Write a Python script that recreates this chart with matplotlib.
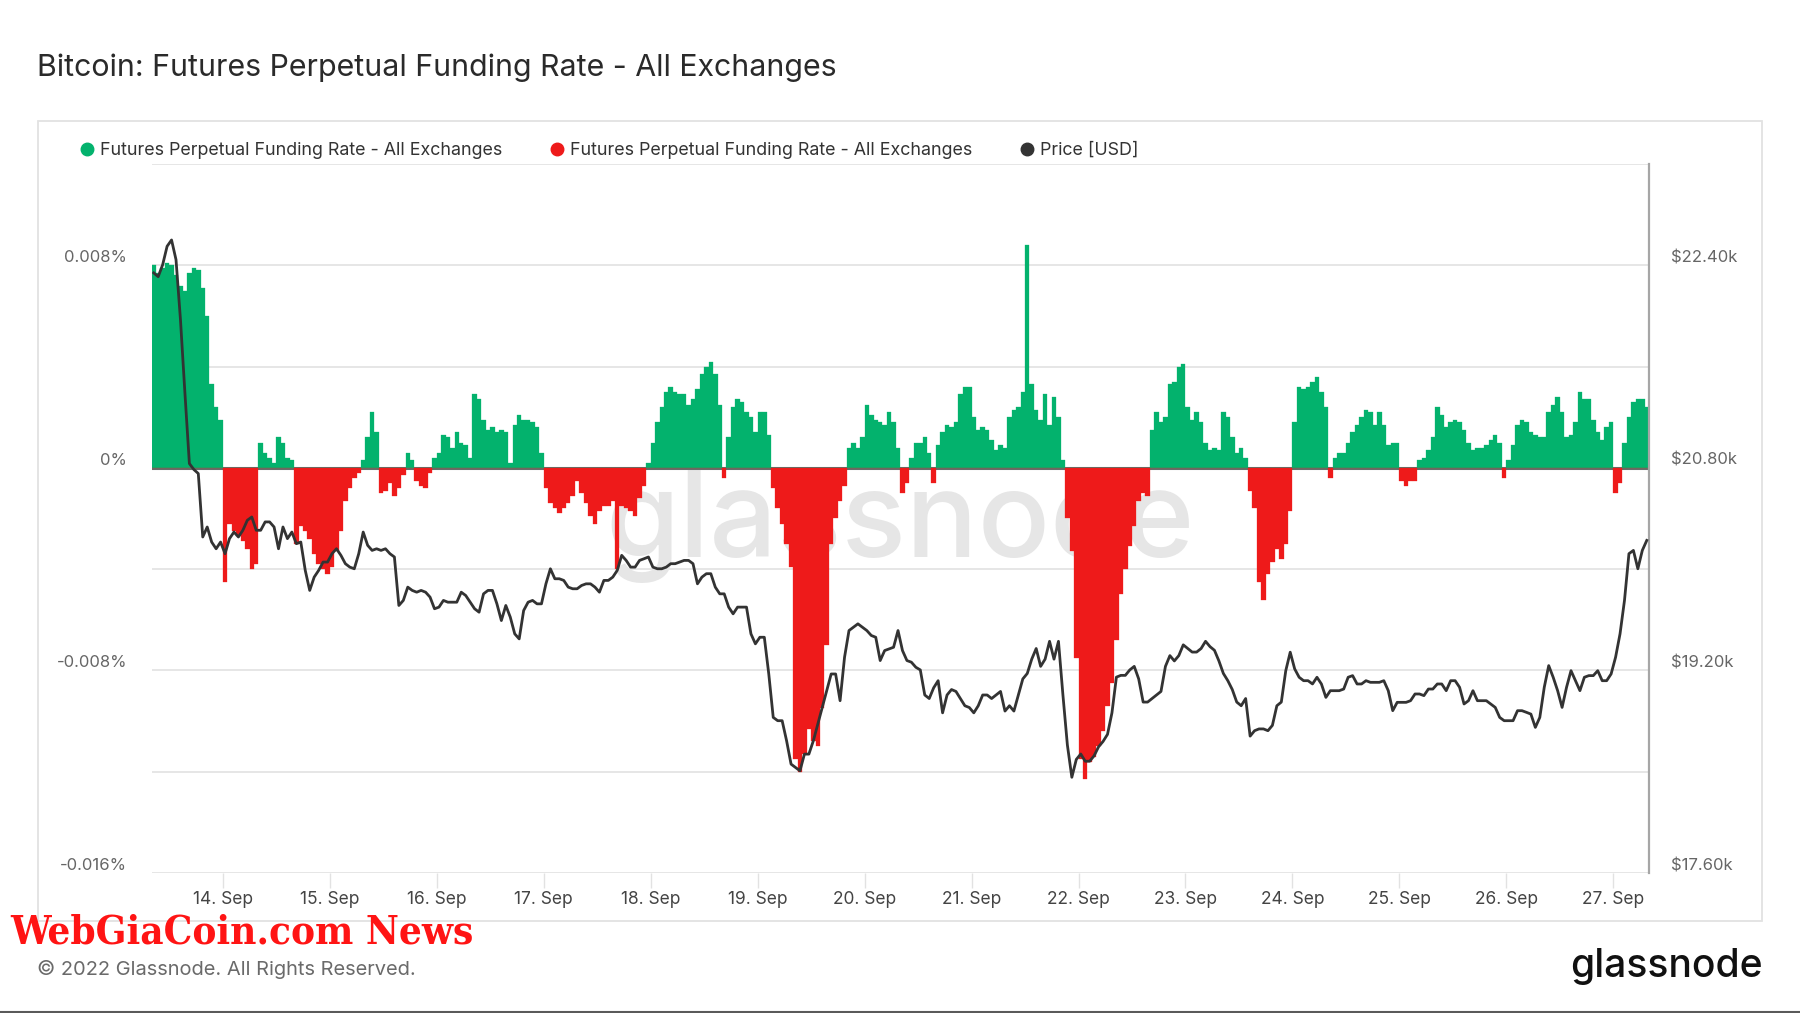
import numpy as np
import pandas as pd
import matplotlib
matplotlib.use("Agg")
import matplotlib.pyplot as plt
import matplotlib.dates as mdates
from matplotlib.patches import Rectangle
from matplotlib.lines import Line2D

# ---------------- data (hourly) ----------------
start_time = "2022-09-13 08:30"
bucket = "h"

funding_rate_pct = [
    0.0080, 0.0077, 0.0079, 0.0081, 0.0080, 0.0076, 0.0072, 0.0070, 0.0077, 0.0079, 0.0078, 0.0071, 0.0060, 0.0033, 0.0024, 0.0019,
    -0.0045, -0.0022, -0.0025, -0.0027, -0.0029, -0.0032, -0.0040, -0.0038, 0.0010, 0.0006, 0.0004, 0.0002, 0.0012, 0.0010, 0.0004, 0.0003,
    -0.0030, -0.0023, -0.0025, -0.0028, -0.0034, -0.0038, -0.0040, -0.0042, -0.0039, -0.0033, -0.0025, -0.0013, -0.0008, -0.0004, -0.0002, 0.0003,
    0.0012, 0.0022, 0.0014, -0.0010, -0.0009, -0.0006, -0.0011, -0.0008, -0.0003, 0.0006, 0.0003, -0.0005, -0.0007, -0.0008, -0.0002, 0.0004,
    0.0006, 0.0013, 0.0012, 0.0008, 0.0014, 0.0010, 0.0009, 0.0004, 0.0029, 0.0027, 0.0019, 0.0015, 0.0016, 0.0014, 0.0015, 0.0014,
    0.0002, 0.0017, 0.0021, 0.0019, 0.0019, 0.0018, 0.0016, 0.0006, -0.0008, -0.0014, -0.0016, -0.0018, -0.0016, -0.0014, -0.0011, -0.0005,
    -0.0010, -0.0014, -0.0019, -0.0022, -0.0017, -0.0015, -0.0015, -0.0013, -0.0040, -0.0015, -0.0016, -0.0017, -0.0019, -0.0012, -0.0007, 0.0002,
    0.0010, 0.0018, 0.0024, 0.0030, 0.0032, 0.0030, 0.0029, 0.0029, 0.0025, 0.0027, 0.0031, 0.0037, 0.0040, 0.0042, 0.0037, 0.0025,
    -0.0004, 0.0012, 0.0024, 0.0027, 0.0026, 0.0022, 0.0020, 0.0014, 0.0022, 0.0022, 0.0013, -0.0008, -0.0016, -0.0022, -0.0030, -0.0039,
    -0.0115, -0.0120, -0.0113, -0.0103, -0.0108, -0.0110, -0.0095, -0.0070, -0.0030, -0.0020, -0.0013, -0.0007, 0.0008, 0.0010, 0.0008, 0.0012,
    0.0025, 0.0021, 0.0019, 0.0018, 0.0017, 0.0022, 0.0018, 0.0008, -0.0010, -0.0006, 0.0004, 0.0010, 0.0010, 0.0012, 0.0006, -0.0006,
    0.0009, 0.0014, 0.0017, 0.0016, 0.0018, 0.0029, 0.0032, 0.0032, 0.0020, 0.0015, 0.0016, 0.0015, 0.0011, 0.0007, 0.0009, 0.0008,
    0.0020, 0.0023, 0.0024, 0.0030, 0.0088, 0.0033, 0.0023, 0.0019, 0.0029, 0.0017, 0.0028, 0.0020, 0.0003, -0.0020, -0.0033, -0.0075,
    -0.0115, -0.0123, -0.0116, -0.0114, -0.0110, -0.0104, -0.0094, -0.0085, -0.0068, -0.0050, -0.0040, -0.0031, -0.0023, -0.0013, -0.0010, -0.0011,
    0.0015, 0.0022, 0.0018, 0.0020, 0.0033, 0.0034, 0.0040, 0.0041, 0.0024, 0.0019, 0.0022, 0.0018, 0.0010, 0.0007, 0.0008, 0.0007,
    0.0022, 0.0020, 0.0012, 0.0006, 0.0008, 0.0004, -0.0009, -0.0016, -0.0045, -0.0052, -0.0042, -0.0037, -0.0032, -0.0036, -0.0030, -0.0017,
    0.0018, 0.0032, 0.0031, 0.0032, 0.0034, 0.0036, 0.0030, 0.0024, -0.0004, 0.0004, 0.0006, 0.0006, 0.0010, 0.0014, 0.0017, 0.0020,
    0.0023, 0.0022, 0.0017, 0.0022, 0.0017, 0.0009, 0.0010, 0.0010, -0.0005, -0.0007, -0.0005, -0.0005, 0.0003, 0.0004, 0.0007, 0.0012,
    0.0024, 0.0021, 0.0016, 0.0018, 0.0019, 0.0018, 0.0015, 0.0010, 0.0007, 0.0008, 0.0008, 0.0009, 0.0011, 0.0013, 0.0010, -0.0004,
    0.0003, 0.0009, 0.0017, 0.0019, 0.0018, 0.0014, 0.0013, 0.0012, 0.0012, 0.0022, 0.0025, 0.0028, 0.0022, 0.0012, 0.0013, 0.0018,
    0.0030, 0.0027, 0.0027, 0.0019, 0.0014, 0.0011, 0.0016, 0.0018, -0.0010, -0.0006, 0.0010, 0.0020, 0.0026, 0.0027, 0.0027, 0.0024,
]

price_usd = [
    22340, 22310, 22404, 22550, 22600, 22444, 21970, 21390, 20834, 20787, 20755, 20254, 20333, 20214, 20161, 20214,
    20122, 20241, 20293, 20254, 20307, 20386, 20412, 20307, 20307, 20373, 20373, 20333, 20161, 20333, 20241, 20293,
    20201, 20214, 19990, 19832, 19937, 19990, 20056, 20056, 20122, 20161, 20109, 20043, 20016, 20003, 20122, 20293,
    20188, 20148, 20161, 20148, 20161, 20122, 20096, 19713, 19753, 19858, 19832, 19818, 19832, 19818, 19779, 19687,
    19700, 19753, 19739, 19739, 19739, 19818, 19792, 19739, 19687, 19660, 19805, 19832, 19832, 19726, 19594, 19713,
    19621, 19489, 19449, 19673, 19739, 19753, 19726, 19726, 19884, 20003, 19924, 19924, 19911, 19858, 19845, 19845,
    19871, 19884, 19884, 19858, 19818, 19911, 19911, 19937, 19990, 20109, 20069, 20016, 20016, 20069, 20082, 20096,
    20016, 20003, 20003, 20016, 20043, 20043, 20056, 20069, 20069, 20043, 19884, 19937, 19964, 19964, 19858, 19805,
    19805, 19700, 19647, 19700, 19700, 19700, 19489, 19410, 19462, 19462, 19172, 18829, 18803, 18803, 18644, 18460,
    18433, 18407, 18539, 18539, 18644, 18776, 18908, 19040, 19172, 19172, 18961, 19304, 19515, 19541, 19568, 19541,
    19515, 19476, 19462, 19278, 19357, 19370, 19383, 19515, 19357, 19278, 19265, 19225, 19204, 19006, 18978, 19063,
    19119, 18865, 19006, 19049, 19034, 18978, 18921, 18907, 18865, 18921, 19006, 19006, 18978, 19006, 19034, 18879,
    18921, 18879, 19006, 19133, 19176, 19289, 19373, 19232, 19289, 19430, 19289, 19430, 19006, 18611, 18356, 18497,
    18540, 18483, 18483, 18526, 18597, 18639, 18695, 18865, 19147, 19161, 19161, 19204, 19232, 19133, 18950, 18950,
    18978, 19006, 19034, 19232, 19317, 19275, 19317, 19402, 19373, 19345, 19345, 19373, 19430, 19388, 19359, 19275,
    19176, 19119, 19049, 18950, 18921, 18978, 18681, 18724, 18738, 18738, 18724, 18766, 18921, 18950, 19198, 19344,
    19212, 19146, 19119, 19119, 19093, 19146, 19093, 18987, 19040, 19040, 19040, 19053, 19146, 19159, 19093, 19093,
    19119, 19106, 19106, 19106, 19119, 19040, 18882, 18948, 18948, 18948, 18961, 19014, 19014, 19001, 19053, 19053,
    19093, 19093, 19040, 19119, 19119, 19067, 18935, 18961, 19040, 18961, 18961, 18961, 18935, 18908, 18829, 18803,
    18803, 18803, 18882, 18882, 18869, 18855, 18750, 18829, 19067, 19238, 19146, 19040, 18908, 19067, 19198, 19119,
    19040, 19146, 19159, 19159, 19198, 19119, 19119, 19172, 19304, 19489, 19753, 20122, 20148, 20003, 20148, 20227,
]

left_ticks = [-0.016, -0.008, 0.0, 0.008]
left_tick_labels = ["-0.016%", "-0.008%", "0%", "0.008%"]
right_ticks = [17600, 19200, 20800, 22400]
right_tick_labels = ["$17.60k", "$19.20k", "$20.80k", "$22.40k"]
legend_labels = ["Futures Perpetual Funding Rate - All Exchanges",
                 "Futures Perpetual Funding Rate - All Exchanges",
                 "Price [USD]"]

# ---------------- styling ----------------
W, H = 1800, 1013
GREEN = "#03B26D"
RED = "#EE1A1A"
LINE = "#333333"
FONT = ["Inter", "DejaVu Sans"]
plt.rcParams["font.family"] = FONT

def fx(x):
    return x / W

def fy(y):
    return 1 - y / H

fig = plt.figure(figsize=(W / 100, H / 100), dpi=100)
fig.patch.set_facecolor("white")

# outer panel frame
fig.patches.append(Rectangle((fx(38), fy(921)), fx(1762) - fx(38), fy(121) - fy(921),
                             transform=fig.transFigure, fill=False,
                             ec="#e2e2e2", lw=1.3, zorder=0))

ax_l, ax_r, ax_t, ax_b = 151.5, 1649, 164, 873
ax = fig.add_axes([fx(ax_l), fy(ax_b), fx(ax_r) - fx(ax_l), fy(ax_t) - fy(ax_b)])
ax.patch.set_visible(False)

times = pd.date_range(start_time, periods=len(funding_rate_pct), freq=bucket)
fr = np.array(funding_rate_pct)
pos = np.where(fr >= 0, fr, 0)
neg = np.where(fr < 0, fr, 0)

ax.set_ylim(-0.016, 0.012)
ax.set_xlim(pd.Timestamp("2022-09-13 08:00"), pd.Timestamp("2022-09-27 08:00"))

for g in np.arange(-0.016, 0.0121, 0.004):
    ax.axhline(g, color="#e6e6e6", lw=1.4, zorder=1)
ax.axhline(0, color="#6a6a6a", lw=2.2, zorder=1.5)

# watermark
wm = ax.text(0.5, 0.5, "glassnode", transform=fig.transFigure, color="#e6e6e6",
             fontsize=90, fontweight="medium", ha="left", va="baseline", zorder=0.5,
             family=FONT)

w = 1 / 24
ax.bar(times, pos, width=w, color=GREEN, edgecolor=GREEN, lw=0.2, zorder=2)
ax.bar(times, neg, width=w, color=RED, edgecolor=RED, lw=0.2, zorder=2)

for s in ["top", "left", "bottom"]:
    ax.spines[s].set_visible(False)
ax.spines["right"].set_color("#a6a6a6")
ax.spines["right"].set_linewidth(1.6)

ax.set_yticks(left_ticks)
ax.set_yticklabels([])
ax.tick_params(axis="y", length=0)
for v, lab in zip(left_ticks, left_tick_labels):
    ax.annotate(lab, xy=(127, v), xycoords=("figure pixels", "data"),
                xytext=(0, 3), textcoords="offset pixels",
                ha="right", va="baseline", color="#666666", fontsize=12)

ax.xaxis.set_major_locator(mdates.DayLocator())
ax.xaxis.set_major_formatter(mdates.DateFormatter("%d. %b"))
ax.tick_params(axis="x", direction="out", length=10.8, width=1, color="#e2e2e2",
               labelcolor="#444444", labelsize=12.5, pad=2)

ax2 = ax.twinx()
ax2.patch.set_visible(False)
ax2.set_ylim(17600, 23200)
ax2.plot(times, price_usd, color=LINE, lw=2.0, zorder=5, solid_joinstyle="round")
for s in ["top", "left", "bottom", "right"]:
    ax2.spines[s].set_visible(False)
ax2.set_yticks(right_ticks)
ax2.set_yticklabels([])
ax2.tick_params(axis="y", length=0)
for v, lab in zip(right_ticks, right_tick_labels):
    ax2.annotate(lab, xy=(1671, v), xycoords=("figure pixels", "data"),
                 xytext=(0, 3), textcoords="offset pixels",
                 ha="left", va="baseline", color="#666666", fontsize=12)

# ---------------- texts ----------------
title = fig.text(fx(37), fy(76), "Bitcoin: Futures Perpetual Funding Rate - All Exchanges",
                 fontsize=22, color="#2a2a2a", ha="left", va="baseline")

leg_items = [(87, GREEN, 100), (557, RED, 570), (1027, "#333333", 1040)]
leg_texts = []
for (dx, col, tx), lab in zip(leg_items, legend_labels):
    fig.add_artist(Line2D([fx(dx)], [fy(149)], marker="o", markersize=9,
                          color=col, transform=fig.transFigure, lw=0))
    leg_texts.append(fig.text(fx(tx), fy(155), lab, fontsize=12.5, color="#333333",
                              ha="left", va="baseline"))

copy = fig.text(fx(37), fy(975), "\u00a9 2022 Glassnode. All Rights Reserved.",
                fontsize=13, color="#6a6a6a", ha="left", va="baseline")

logo = fig.text(fx(1570), fy(977), "glassnode", fontsize=28, fontweight="medium",
                color="#111111", ha="left", va="baseline")

news = fig.text(fx(10), fy(943), "WebGiaCoin.com News", fontsize=30,
                fontweight="bold", fontstretch="condensed", color="#FF1414",
                family=["DejaVu Serif", "Liberation Serif"], ha="left", va="baseline")

fig.add_artist(Line2D([0, 1], [fy(1012), fy(1012)], color="#5a5a5a", lw=1.5,
                      transform=fig.transFigure))

# fit some texts to the measured widths
renderer = fig.canvas.get_renderer()

def fit(t, width_px):
    bb = t.get_window_extent(renderer)
    t.set_fontsize(t.get_fontsize() * width_px / bb.width)

fit(title, 800)
for t in leg_texts[:2]:
    fit(t, 403)
leg_texts[2].set_fontsize(leg_texts[0].get_fontsize())
fit(copy, 379)
fit(logo, 192)
fit(news, 463)
wm.set_position((fx(605), fy(557)))
fit(wm, 589)

fig.savefig("out.png", dpi=100, facecolor="white")
